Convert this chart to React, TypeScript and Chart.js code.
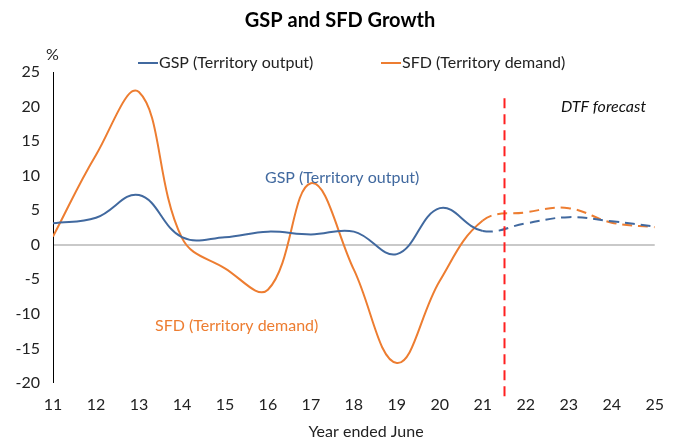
import { useEffect, useRef } from "react";
import { Chart, registerables } from "chart.js";

Chart.register(...registerables);

const years = [11, 12, 13, 14, 15, 16, 17, 18, 19, 20, 21, 22, 23, 24, 25];
const gspValues = [3.1, 3.9, 7.2, 1.1, 1.1, 1.9, 1.5, 1.9, -1.35, 5.3, 2.0, 3.1, 4.0, 3.4, 2.65];
const sfdValues = [1.2, 13.0, 22.1, 1.0, -3.4, -6.5, 8.9, -3.6, -17.1, -5.2, 3.5, 4.7, 5.3, 3.2, 2.55];
const forecastStartIndex = 10;
const forecastDivider = 21.5;
const yMin = -20;
const yMax = 25;
const yStep = 5;

const GSP_COLOR = "#41699f";
const SFD_COLOR = "#ed7d31";
const FONT = "Lato, 'Open Sans', sans-serif";

export default function App() {
  const ref = useRef<HTMLCanvasElement | null>(null);

  useEffect(() => {
    document.body.style.margin = "0";
    const canvas = ref.current;
    if (!canvas) return;

    const overlay = {
      id: "overlay",
      afterDatasetsDraw(chart: any) {
        const ctx = chart.ctx;
        const xs = chart.scales.x;
        const ys = chart.scales.y;
        ctx.save();
        // forecast divider
        const dx = Math.round(xs.getPixelForValue(forecastDivider)) + 0.5;
        ctx.strokeStyle = "#ff2020";
        ctx.lineWidth = 2;
        ctx.setLineDash([10, 6]);
        ctx.beginPath();
        ctx.moveTo(dx, ys.getPixelForValue(21.2));
        ctx.lineTo(dx, ys.getPixelForValue(-22.7));
        ctx.stroke();
        ctx.setLineDash([]);

        ctx.textBaseline = "middle";
        // title
        ctx.fillStyle = "#000";
        ctx.font = `bold 20px ${FONT}`;
        ctx.textAlign = "center";
        ctx.fillText("GSP and SFD Growth", 340, 21);

        // % unit
        ctx.font = `16px ${FONT}`;
        ctx.fillStyle = "#222";
        ctx.textAlign = "left";
        ctx.fillText("%", 46, 55);

        // legend
        const legend = [
          { x: 138, label: "GSP (Territory output)", color: GSP_COLOR },
          { x: 381, label: "SFD (Territory demand)", color: SFD_COLOR },
        ];
        for (const l of legend) {
          ctx.strokeStyle = l.color;
          ctx.lineWidth = 2;
          ctx.beginPath();
          ctx.moveTo(l.x, 63);
          ctx.lineTo(l.x + 20, 63);
          ctx.stroke();
          ctx.fillStyle = "#222";
          ctx.fillText(l.label, l.x + 21, 63);
        }

        // series annotations
        ctx.font = `16px ${FONT}`;
        ctx.fillStyle = GSP_COLOR;
        ctx.fillText("GSP (Territory output)", 265, 178);
        ctx.fillStyle = SFD_COLOR;
        ctx.fillText("SFD (Territory demand)", 155, 326);
        ctx.fillStyle = "#111";
        ctx.font = `italic 16px ${FONT}`;
        ctx.fillText("DTF forecast", 561, 107);

        // x title
        ctx.font = `16px ${FONT}`;
        ctx.fillStyle = "#222";
        ctx.textAlign = "center";
        ctx.fillText("Year ended June", 366, 432);
        ctx.restore();
      },
    };

    const dashed = (c: any) => (c.p0DataIndex >= forecastStartIndex ? [10, 6] : undefined);

    const chart = new Chart(canvas, {
      type: "line",
      data: {
        datasets: [
          {
            label: "GSP (Territory output)",
            data: years.map((y, i) => ({ x: y, y: gspValues[i] })),
            borderColor: GSP_COLOR,
            borderWidth: 2,
            pointRadius: 0,
            tension: 0.4,
            fill: false,
            segment: { borderDash: dashed },
          },
          {
            label: "SFD (Territory demand)",
            data: years.map((y, i) => ({ x: y, y: sfdValues[i] })),
            borderColor: SFD_COLOR,
            borderWidth: 2,
            pointRadius: 0,
            tension: 0.4,
            fill: false,
            segment: { borderDash: dashed },
          },
        ],
      },
      options: {
        responsive: false,
        animation: false,
        layout: { padding: { top: 72, right: 21, left: 0, bottom: 0 } },
        plugins: { legend: { display: false }, title: { display: false }, tooltip: { enabled: false } },
        scales: {
          x: {
            type: "linear",
            min: years[0],
            max: years[years.length - 1],
            grid: { display: false, drawTicks: false },
            border: { display: false },
            ticks: { stepSize: 1, padding: 12, color: "#222", font: { family: FONT, size: 16 } },
            afterFit: (s: any) => {
              s.height = 59;
            },
          },
          y: {
            min: yMin,
            max: yMax,
            grid: {
              drawTicks: false,
              color: (c: any) => (c.tick && c.tick.value === 0 ? "#c9c9c9" : "rgba(0,0,0,0)"),
              lineWidth: (c: any) => (c.tick && c.tick.value === 0 ? 2 : 0),
            },
            border: { display: true, color: "#000", width: 1 },
            ticks: { stepSize: yStep, padding: 13, color: "#222", font: { family: FONT, size: 16 } },
            afterFit: (s: any) => {
              s.width = 53;
            },
          },
        },
      },
      plugins: [overlay],
    });
    return () => chart.destroy();
  }, []);

  return <canvas ref={ref} width={676} height={442} style={{ display: "block" }} />;
}
